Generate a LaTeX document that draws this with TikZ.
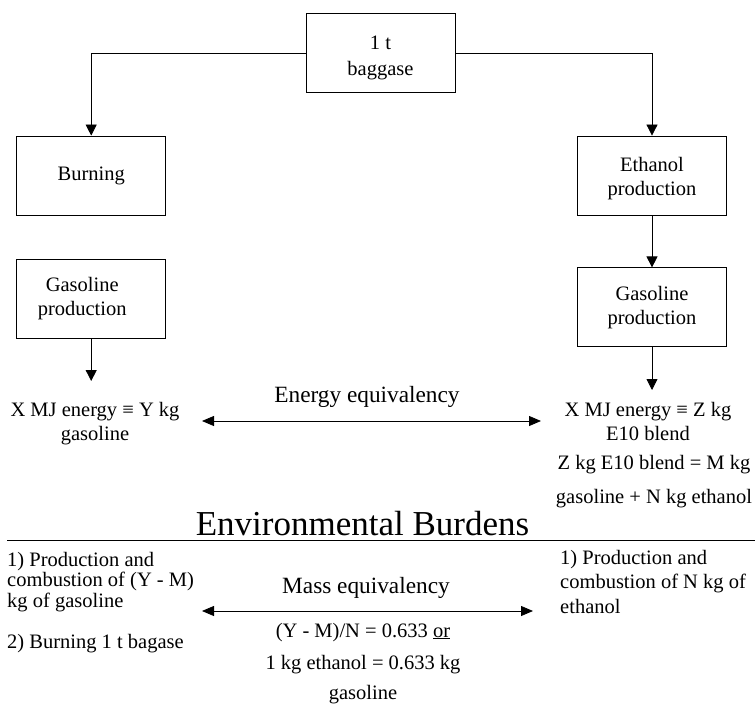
\documentclass[tikz,border=0pt]{standalone}
\usepackage{fontspec}
\setmainfont{Liberation Serif}
\usetikzlibrary{arrows.meta}

\newcommand\bodyfont{\fontsize{20.5}{24}\selectfont}
\newcommand\labelfont{\fontsize{23.3}{27}\selectfont}
\newcommand\titlefont{\fontsize{35}{40}\selectfont}

\tikzset{
  box/.style={draw, line width=0.8pt, minimum width=149pt, minimum height=79pt,
              inner sep=0pt, align=center, font=\bodyfont},
  flow/.style={line width=0.8pt, -{Triangle[length=11pt,width=11pt]}},
  equiv/.style={line width=0.8pt,
                {Triangle[length=12pt,width=10pt]}-{Triangle[length=12pt,width=10pt]}},
  txt/.style={inner sep=0pt, anchor=base, font=\bodyfont},
  eqlabel/.style={inner sep=0pt, anchor=base, font=\labelfont},
  rule/.style={line width=0.8pt},
}

\begin{document}
\begin{tikzpicture}[x=1pt, y=-1pt]
  \useasboundingbox (0,0) rectangle (755,706);

  % process boxes
  \node[box] (bag)  at (380.5,53)    {\rule{0pt}{24pt}1 t\\[2pt]baggase};
  \node[box] (burn) at (91.2,175.5)  {Burning};
  \node[box] (gasL) at (91.2,298.5)  {Gasoline\kern18pt\\production\kern18pt};
  \node[box] (eth)  at (652,175.5)   {\rule{0pt}{20pt}Ethanol\\production};
  \node[box] (gasR) at (652,307.3)   {Gasoline\\production};

  % flow connectors
  \draw[flow] (bag.west) -| (burn.north);
  \draw[flow] (bag.east) -| (eth.north);
  \draw[flow] (eth.south) -- (gasR.north);
  \coordinate (outL) at (91.2,381);
  \coordinate (outR) at (652,390);
  \draw[flow] (gasL.south) -- (outL);
  \draw[flow] (gasR.south) -- (outR);

  % energy equivalency
  \node[txt] (enL) at (95,416)
    {\begin{tabular}[t]{@{}c@{}}X MJ energy ≡ Y kg\\gasoline\end{tabular}};
  \node[txt] (enR) at (648,416)
    {\begin{tabular}[t]{@{}c@{}}X MJ energy ≡ Z kg\\E10 blend\end{tabular}};
  \node[txt] (mix) at (654,469)
    {\begin{tabular}[t]{@{}c@{}}Z kg E10 blend = M kg\\[10pt]gasoline + N kg ethanol\end{tabular}};
  \node[eqlabel] (enLbl) at (367,402) {Energy equivalency};
  \coordinate (enA) at (202,421);
  \coordinate (enB) at (541,421);
  \draw[equiv] (enA) -- (enB);

  % environmental burdens
  \node[inner sep=0pt, anchor=base, font=\titlefont] (title) at (362.5,535)
    {Environmental Burdens};
  \coordinate (ruleA) at (7,540);
  \coordinate (ruleB) at (755,540);
  \draw[rule] (ruleA) -- (ruleB);

  \node[txt, anchor=base west] (burL) at (7,566)
    {\fontsize{20.5}{20.5}\selectfont\begin{tabular}[t]{@{}l@{}}1) Production and\\combustion of (Y - M)\\kg of gasoline\\[21pt]2) Burning 1 t bagase\end{tabular}};
  \node[txt, anchor=base west] (burR) at (560,564)
    {\fontsize{20.5}{24.5}\selectfont\begin{tabular}[t]{@{}l@{}}1) Production and\\combustion of N kg of\\ethanol\end{tabular}};

  % mass equivalency
  \node[eqlabel] (msLbl) at (366,593) {Mass equivalency};
  \coordinate (msA) at (202,611);
  \coordinate (msB) at (533,611);
  \draw[equiv] (msA) -- (msB);
  \node[txt] (ratio) at (363,637)
    {\fontsize{20.5}{32}\selectfont\begin{tabular}[t]{@{}c@{}}(Y - M)/N = 0.633 \underline{or}\\1 kg ethanol = 0.633 kg\\[-2pt]gasoline\end{tabular}};
\end{tikzpicture}
\end{document}
